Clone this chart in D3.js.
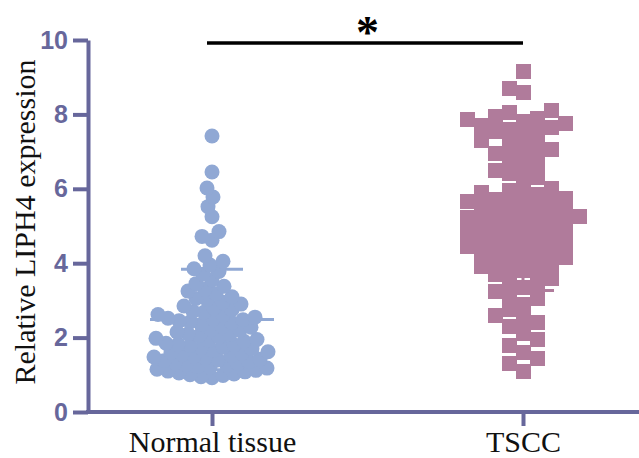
<!DOCTYPE html>
<html lang="en">
<head>
<meta charset="UTF-8">
<title>LIPH4 expression</title>
<script src="https://d3js.org/d3.v7.min.js"></script>
<style>
  body { margin: 0; background: #fff; }
</style>
</head>
<body>
<script>
// groups and values
const groups = ["Normal tissue", "TSCC"];
const normalValues = [
  7.42, 6.45, 6.02, 5.78, 5.52, 5.25, 4.85, 4.72, 4.62, 4.2, 4.05, 3.95, 3.85, 3.78, 3.7,
  3.55, 3.45, 3.38, 3.3, 3.25, 3.18, 3.1, 3.05, 3.02,
  2.95, 2.9, 2.85, 2.8, 2.75, 2.7, 2.68, 2.62, 2.6, 2.55, 2.52, 2.5,
  2.48, 2.45, 2.42, 2.4, 2.35, 2.3, 2.28, 2.22, 2.2, 2.15, 2.1, 2.08, 2.05, 2.02,
  1.98, 1.95, 1.92, 1.9, 1.85, 1.82, 1.8, 1.78, 1.75, 1.72, 1.7, 1.65, 1.62, 1.6, 1.58, 1.55, 1.52, 1.5,
  1.48, 1.45, 1.42, 1.4, 1.38, 1.35, 1.32, 1.3, 1.28, 1.25, 1.22, 1.2, 1.18, 1.15, 1.12, 1.1,
  1.08, 1.05, 1.02, 1.0, 0.98, 0.95, 0.92
];
const tsccValues = [
  9.15, 8.7, 8.6,
  8.1, 8.05, 7.95, 7.9, 7.85,
  7.8, 7.75, 7.7, 7.65, 7.6, 7.55, 7.5,
  7.4, 7.3, 7.2, 7.1, 7.05, 7.0, 6.95,
  6.8, 6.7, 6.6, 6.5, 6.4, 6.3, 6.2,
  6.0, 5.95, 5.9, 5.85, 5.8, 5.75, 5.7, 5.65, 5.6, 5.55, 5.5, 5.45, 5.4, 5.35,
  5.3, 5.25, 5.22, 5.2, 5.15, 5.1, 5.05, 5.0, 4.95, 4.9, 4.85, 4.8, 4.75, 4.7, 4.65, 4.6, 4.55, 4.5,
  4.45, 4.4, 4.35, 4.3, 4.25, 4.2, 4.15, 4.1, 4.0, 3.95, 3.9, 3.85, 3.8, 3.7, 3.6, 3.55,
  3.45, 3.35, 3.25, 3.15, 3.05,
  2.9, 2.75, 2.6, 2.5, 2.4, 2.3,
  2.1, 1.95, 1.8, 1.6, 1.45, 1.3, 1.1
];
const yTicks = [0, 2, 4, 6, 8, 10];

const width = 639, height = 458;
const axisColor = "#67679b";
const blue = "#90a8d4", mauve = "#b07b9b";

const svg = d3.select("body").append("svg")
  .attr("width", width).attr("height", height);

const y = d3.scaleLinear().domain([0, 10]).range([412, 40]);
const x = d3.scalePoint().domain(groups).range([212, 523]);

// simple beeswarm: place each point as close to the centre as it can go
function swarm(values, minDist, square) {
  const placed = [];
  const sorted = values.slice().sort((a, b) => a - b);
  sorted.forEach(v => {
    const py = y(v);
    let off = 0;
    for (let k = 0; k < 400; k++) {
      const o = (k % 2 === 0 ? 1 : -1) * Math.ceil(k / 2);
      const hit = placed.some(p => {
        if (square) return Math.abs(p.dx - o) < minDist && Math.abs(p.py - py) < minDist;
        return Math.hypot(p.dx - o, p.py - py) < minDist;
      });
      if (!hit) { off = o; break; }
    }
    placed.push({ v: v, py: py, dx: off });
  });
  return placed;
}

// axes
const yAxis = svg.append("g")
  .attr("transform", "translate(88,0)")
  .call(d3.axisLeft(y).tickValues(yTicks).tickSize(15).tickSizeOuter(0).tickPadding(5));
yAxis.select(".domain").attr("stroke", axisColor).attr("stroke-width", 4);
yAxis.selectAll(".tick line").attr("stroke", axisColor).attr("stroke-width", 4);
yAxis.selectAll(".tick text")
  .attr("fill", axisColor)
  .style("font-family", "'Liberation Sans', Arial, sans-serif")
  .style("font-weight", "bold")
  .style("font-size", "25px");

const xAxis = svg.append("g")
  .attr("transform", "translate(0,412)")
  .call(d3.axisBottom(x).tickSize(14).tickSizeOuter(0).tickPadding(5));
xAxis.select(".domain").remove();
xAxis.append("line")
  .attr("x1", 86).attr("x2", width)
  .attr("stroke", axisColor).attr("stroke-width", 4);
xAxis.selectAll(".tick line").attr("stroke", axisColor).attr("stroke-width", 4);
xAxis.selectAll(".tick text")
  .attr("fill", "#111")
  .style("font-family", "'Liberation Serif', 'Times New Roman', serif")
  .style("font-size", "30px");

// y title
svg.append("text")
  .attr("transform", "translate(35,222) rotate(-90)")
  .attr("text-anchor", "middle")
  .style("font-family", "'Liberation Serif', 'Times New Roman', serif")
  .style("font-size", "30px")
  .attr("fill", "#111")
  .text("Relative LIPH4 expression");

// mean and SD lines
function meanLines(values, group, color) {
  const m = d3.mean(values), sd = d3.deviation(values);
  const cx = x(group);
  const g = svg.append("g").attr("stroke", color).attr("stroke-width", 3);
  g.append("line").attr("x1", cx - 62).attr("x2", cx + 62).attr("y1", y(m)).attr("y2", y(m));
  [m + sd, m - sd].forEach(v => {
    g.append("line").attr("x1", cx - 31).attr("x2", cx + 31).attr("y1", y(v)).attr("y2", y(v));
  });
  g.append("line").attr("x1", cx).attr("x2", cx).attr("y1", y(m + sd)).attr("y2", y(m - sd));
}
meanLines(normalValues, groups[0], blue);
meanLines(tsccValues, groups[1], mauve);

// points
const normalPts = swarm(normalValues, 10.5, false);
svg.append("g").selectAll("circle")
  .data(normalPts).join("circle")
  .attr("cx", d => x(groups[0]) + d.dx)
  .attr("cy", d => d.py)
  .attr("r", 7.5)
  .attr("fill", blue);

const tsccPts = swarm(tsccValues, 13.5, true);
svg.append("g").attr("shape-rendering", "crispEdges")
  .selectAll("rect")
  .data(tsccPts).join("rect")
  .attr("x", d => x(groups[1]) + d.dx - 7.5)
  .attr("y", d => d.py - 7.5)
  .attr("width", 15).attr("height", 15)
  .attr("fill", mauve);

// significance bar
svg.append("line")
  .attr("x1", x(groups[0]) - 5).attr("x2", x(groups[1]))
  .attr("y1", 43).attr("y2", 43)
  .attr("stroke", "#000").attr("stroke-width", 3.5);
svg.append("text")
  .attr("x", (x(groups[0]) + x(groups[1])) / 2)
  .attr("y", 48)
  .attr("text-anchor", "middle")
  .style("font-family", "'Liberation Serif', 'Times New Roman', serif")
  .style("font-weight", "bold")
  .style("font-size", "46px")
  .text("*");
</script>
</body>
</html>
